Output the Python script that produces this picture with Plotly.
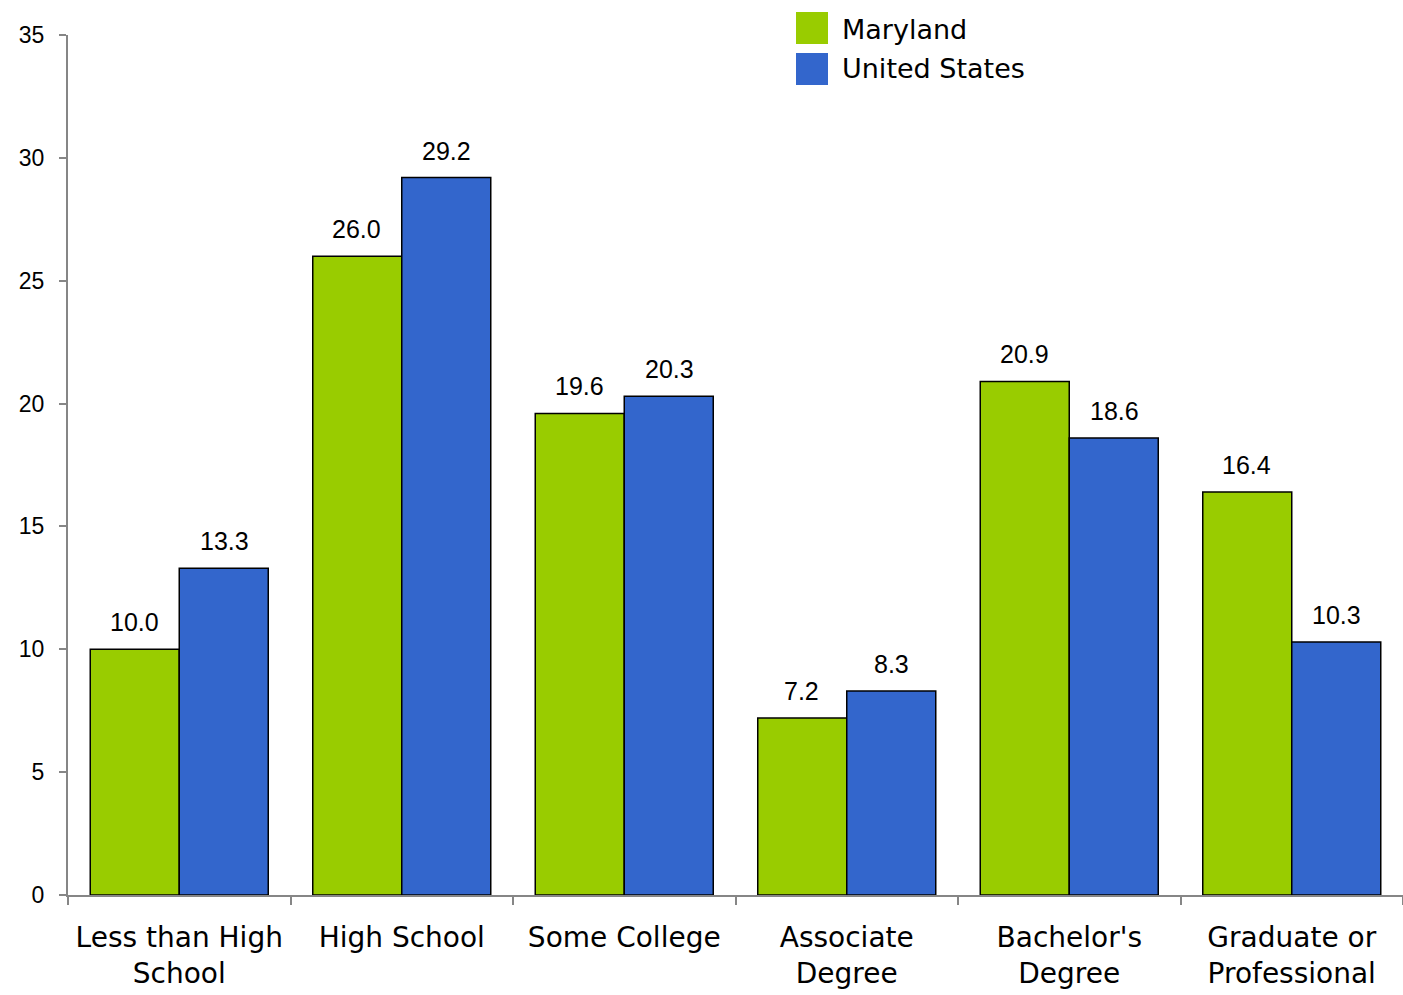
import plotly.graph_objects as go

categories = ["Less than High<br>School", "High School", "Some College",
              "Associate<br>Degree", "Bachelor's<br>Degree", "Graduate or<br>Professional"]
maryland = [10.0, 26.0, 19.6, 7.2, 20.9, 16.4]
united_states = [13.3, 29.2, 20.3, 8.3, 18.6, 10.3]
series_names = ["Maryland", "United States"]
series_colors = ["#99CC00", "#3366CC"]

W, H = 1403, 995
ML, MR, MT, MB = 68, 0, 35, 100

fig = go.Figure()
for name, vals, col in zip(series_names, [maryland, united_states], series_colors):
    fig.add_trace(go.Bar(
        x=categories, y=vals, name=name, marker=dict(color=col, line=dict(color="black", width=1.5)),
        showlegend=False, cliponaxis=False,
    ))

# value labels as annotations above bars
for i, (name, vals) in enumerate(zip(series_names, [maryland, united_states])):
    shift = -45 if i == 0 else 45
    for c, v in zip(categories, vals):
        fig.add_annotation(x=c, y=v, text=f"{v:.1f}", showarrow=False, xref="x", yref="y",
                           xshift=shift, yanchor="bottom", yshift=11,
                           font=dict(family="Liberation Sans, Arial", size=25, color="black"))

# manual legend
pw, ph = W - ML - MR, H - MT - MB
def px(x):
    return (x - ML) / pw
def py(y):
    return (H - MB - y) / ph
legend_rows = [(12, 44, 29), (53, 85, 68)]
for (top, bot, mid), name, col in zip(legend_rows, series_names, series_colors):
    fig.add_shape(type="rect", xref="paper", yref="paper", x0=px(796), x1=px(828),
                  y0=py(bot), y1=py(top), fillcolor=col, line=dict(width=0))
    fig.add_annotation(xref="paper", yref="paper", x=px(840), y=py(mid), text=name,
                       showarrow=False, xanchor="left", yanchor="middle",
                       font=dict(family="DejaVu Sans", size=27, color="black"))

fig.update_layout(
    width=W, height=H, margin=dict(l=ML, r=MR, t=MT, b=MB),
    paper_bgcolor="white", plot_bgcolor="white",
    barmode="group", bargap=0.2, bargroupgap=0,
    showlegend=False,
)
fig.update_xaxes(
    type="category", showline=True, linecolor="#868686", linewidth=2,
    ticks="outside", tickson="boundaries", ticklen=8, tickcolor="#868686", tickwidth=2,
    tickfont=dict(family="DejaVu Sans", size=28, color="black"), showgrid=False,
    ticklabelstandoff=16,
)
fig.update_yaxes(
    range=[0, 35], dtick=5, showline=True, linecolor="#868686", linewidth=2,
    ticks="outside", ticklen=7, tickcolor="#868686", tickwidth=2, showgrid=False, zeroline=False,
    tickfont=dict(family="Liberation Sans, Arial", size=23, color="black"),
    ticklabelstandoff=10,
)
fig.write_html("out.html", config={"displayModeBar": False},
               post_script="document.body.style.margin='0';")
